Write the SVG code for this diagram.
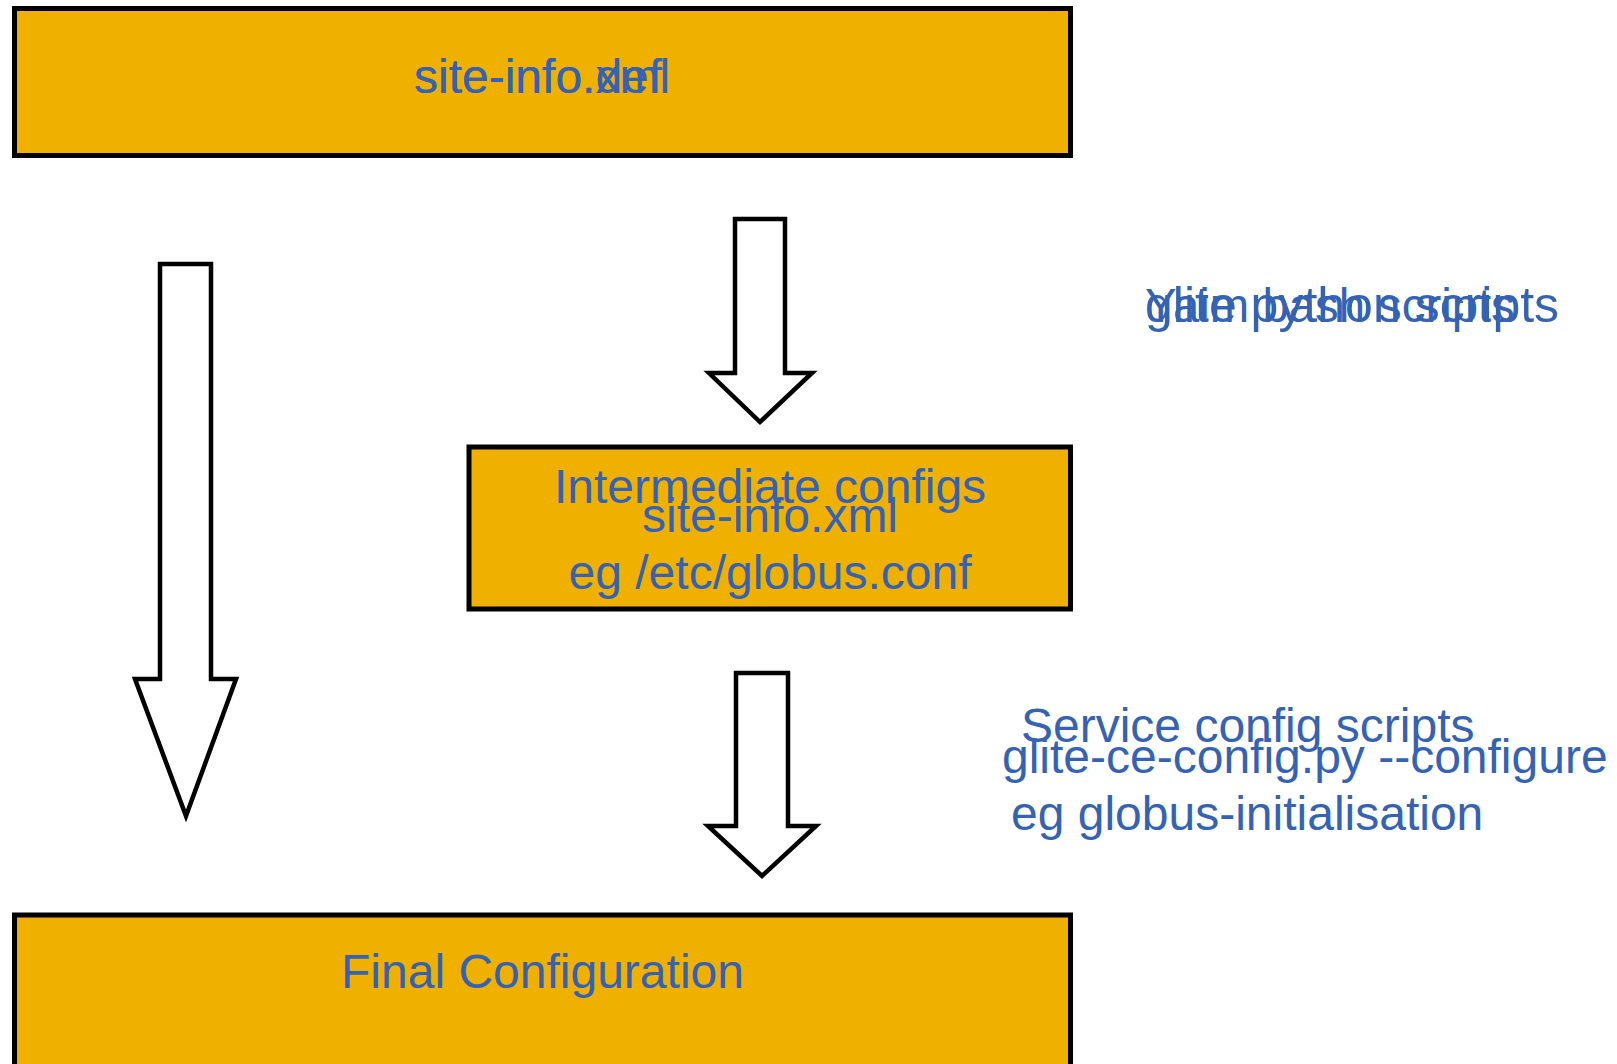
<svg xmlns="http://www.w3.org/2000/svg" width="1617" height="1064" viewBox="0 0 1617 1064">
<style>
.box{fill:#f0b000;stroke:#000;stroke-width:5}
.arr{fill:#fff;stroke:#000;stroke-width:4.5;stroke-linejoin:miter}
text{font-family:"Liberation Sans",Arial,sans-serif;font-size:48px;fill:#3462b4}
.c{text-anchor:middle}
.big{font-size:50px}
.sm{font-size:47.3px}
</style>
<rect width="1617" height="1064" fill="#fff"/>
<g id="top">
<rect class="box" x="14.5" y="8.5" width="1056" height="147"/>
<text x="414" y="93">site-info.def</text>
<text x="414" y="93">site-info.xml</text>
</g>
<g id="intermediate">
<rect class="box" x="469" y="447" width="601.5" height="162"/>
<text class="c" x="770" y="503">Intermediate configs</text>
<text class="c" x="770" y="532">site-info.xml</text>
<text class="c" x="770" y="589">eg /etc/globus.conf</text>
</g>
<g id="final">
<rect class="box" x="14.5" y="915" width="1056" height="160"/>
<text class="c" x="542.5" y="988">Final Configuration</text>
</g>
<g id="label-scripts">
<text class="sm" x="1145" y="322">Yaim bash scripts</text>
<text class="big" x="1145" y="322">glite python scripts</text>
</g>
<g id="label-service">
<text x="1021" y="742">Service config scripts</text>
<text x="1002" y="773">glite-ce-config.py --configure</text>
<text x="1011" y="830">eg globus-initialisation</text>
</g>
<g id="connectors">
<polygon class="arr" points="160,264 211,264 211,679 236,679 186,816 135,679 160,679"/>
<polygon class="arr" points="735,219 785,219 785,373 812,373 760,422 709,373 735,373"/>
<polygon class="arr" points="736,673 788,673 788,826 816,826 762,876 708,826 736,826"/>
</g>
</svg>
